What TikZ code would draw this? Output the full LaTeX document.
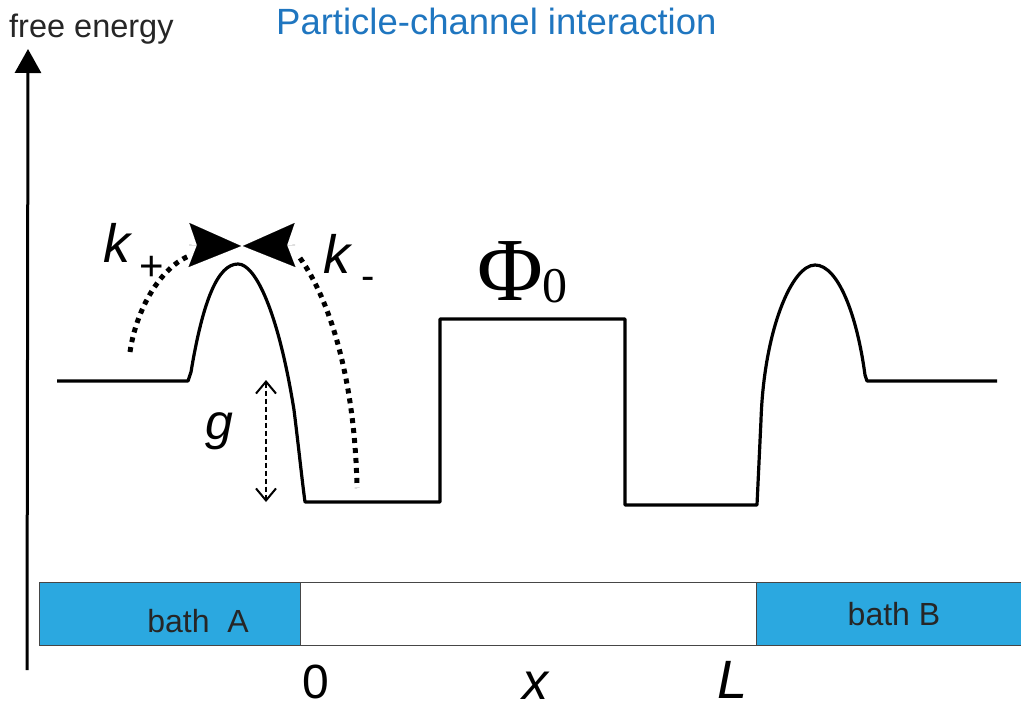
\documentclass[tikz,border=0pt]{standalone}
\usepackage{fontspec}
\setmainfont{Liberation Sans}
\newfontfamily\phifont{Liberation Serif}
\usetikzlibrary{arrows.meta}
\definecolor{bathblue}{RGB}{43,168,224}
\definecolor{titleblue}{RGB}{31,118,192}
\definecolor{edgegray}{RGB}{70,70,70}
\begin{document}
\begin{tikzpicture}[x=1pt,y=-1pt,
  lbl/.style={inner sep=0pt, anchor=base},
  lblw/.style={inner sep=0pt, anchor=base west},
  curve/.style={line width=3.2pt, line join=round},
  dots/.style={line width=5pt, dash pattern=on 5pt off 5pt},
  bigtip/.style={line width=0.1pt, -{Stealth[length=52pt,width=44pt,inset=8pt]}},
  garrow/.style={line width=2pt, dash pattern=on 5pt off 3pt,
    {Straight Barb[length=12pt,width=20pt]}-{Straight Barb[length=12pt,width=20pt]}},
  axisline/.style={line width=3pt, -{Triangle[length=24pt,width=26pt]}},
  barbox/.style={draw=edgegray, line width=1.2pt, inner sep=0pt, anchor=north west, minimum height=63pt},
]
\useasboundingbox (0,0) rectangle (1021,709);
\fill[white] (0,0) rectangle (1021,709);

% title and axis label
\node[lblw, text=titleblue, font=\fontsize{36.5}{40}\selectfont] (title) at (276,35) {Particle-channel interaction};
\node[lblw, font=\fontsize{32.5}{36}\selectfont, text=black!85] (ylabel) at (9,38) {free energy};

% vertical axis
\coordinate (axbot) at (27,670);
\coordinate (axtop) at (28,49);
\draw[axisline] (axbot) -- (axtop);

% bar
\node[barbox, fill=bathblue, minimum width=261pt] (bathA) at (39,582) {};
\node[barbox, fill=white, minimum width=456pt] (chan) at (300,582) {};
\node[barbox, fill=bathblue, minimum width=275pt] (bathB) at (756,582) {};
\node[lbl, font=\fontsize{32}{36}\selectfont, text=black!85] (tA) at (198,632) {bath\ \ A};
\node[lbl, font=\fontsize{32}{36}\selectfont, text=black!85] (tB) at (894,625) {bath B};

% bottom labels
\node[lbl, font=\fontsize{48}{50}\selectfont] (zero) at (316,698) {0};
\node[lbl, font=\fontsize{52}{54}\selectfont\itshape] (xl) at (535,699) {x};
\node[lbl, font=\fontsize{54}{56}\selectfont\itshape] (Ll) at (733,698) {L};

% potential profile
\draw[curve] (57,381) -- (188,381) -- (191,372)
  .. controls (203,300) and (218,264) .. (238,264)
  .. controls (255,264) and (278,310) .. (294,410)
  .. controls (299,450) and (302,480) .. (305,502)
  -- (440,502) -- (440,319) -- (625,319) -- (625,505) -- (757,505)
  -- (761,420)
  .. controls (764,330) and (792,265) .. (815,265)
  .. controls (838,265) and (857,315) .. (865,375)
  -- (867,381) -- (997,381);

% Phi_0
\node[lblw, font=\phifont\fontsize{90}{92}\selectfont] (phi) at (477,300) {Φ};
\node[lblw, font=\phifont\fontsize{50}{52}\selectfont] (phisub) at (542,302) {0};

% k+ arrow
\coordinate (kps) at (130,352);
\coordinate (kpe) at (189,256);
\draw[dots] (kps) .. controls (136,310) and (160,268) .. (kpe);
\coordinate (kpa1) at (189,245);
\coordinate (kpa2) at (241,246);
\draw[bigtip] (kpa1) -- (kpa2);
\node[lblw, font=\fontsize{54}{56}\selectfont\itshape] (kp) at (103,262) {k};
\node[inner sep=0pt, font=\fontsize{42}{44}\selectfont] (kpsub) at (152,268) {+};

% k- arrow
\coordinate (kms) at (300,258);
\coordinate (kme) at (357,488);
\draw[dots] (kms) .. controls (330,300) and (355,380) .. (kme);
\coordinate (kma1) at (295,245);
\coordinate (kma2) at (243,246);
\draw[bigtip] (kma1) -- (kma2);
\node[lblw, font=\fontsize{54}{56}\selectfont\itshape] (km) at (323,273) {k};
\node[inner sep=0pt, font=\fontsize{40}{42}\selectfont] (kmsub) at (368,283) {-};

% g arrow
\coordinate (gt) at (266,380);
\coordinate (gb) at (266,502);
\draw[garrow] (gt) -- (gb);
\node[lblw, font=\fontsize{50}{52}\selectfont\itshape] (gl) at (205,439) {g};
\end{tikzpicture}
\end{document}
